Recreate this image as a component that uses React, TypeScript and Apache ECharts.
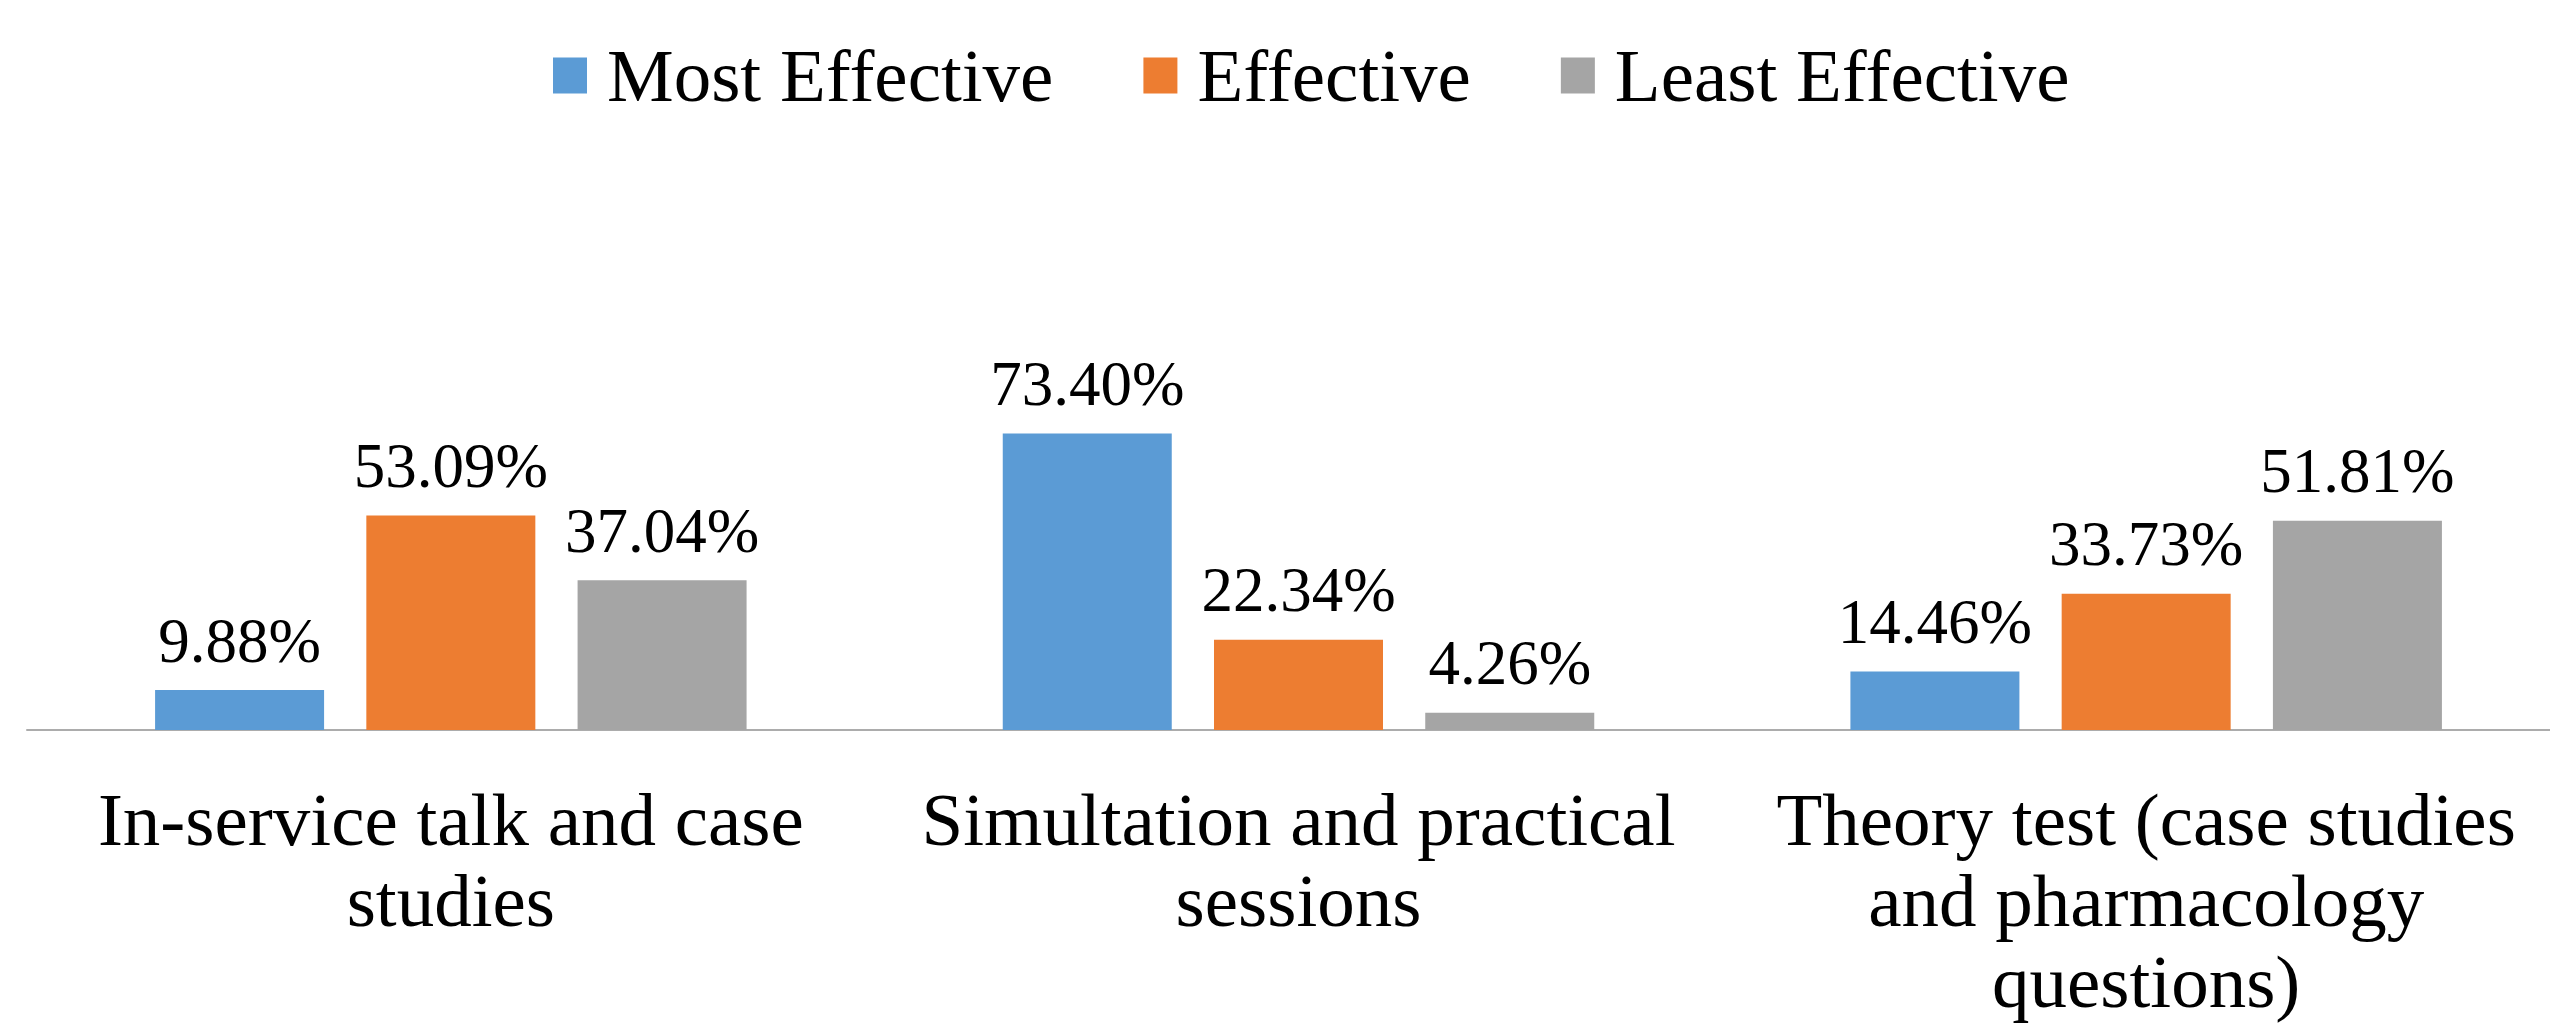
import React, { useEffect, useRef } from "react";
import * as echarts from "echarts";

const categories = [
  "In-service talk and case studies",
  "Simultation and practical sessions",
  "Theory test (case studies and pharmacology questions)",
];
const seriesNames = ["Most Effective", "Effective", "Least Effective"];
const mostEffective = [9.88, 73.4, 14.46];
const effective = [53.09, 22.34, 33.73];
const leastEffective = [37.04, 4.26, 51.81];
const colors = ["#5B9BD5", "#ED7D31", "#A5A5A5"];

const FONT = "'Liberation Serif', 'Times New Roman', serif";
const CAT_FONT_SIZE = 75;
const WRAP_WIDTH = 800;

function wrapText(text: string, font: string, maxWidth: number): string {
  const canvas = document.createElement("canvas");
  const ctx = canvas.getContext("2d");
  if (!ctx) return text;
  ctx.font = font;
  const words = text.split(" ");
  const lines: string[] = [];
  let cur = "";
  for (const w of words) {
    const trial = cur ? cur + " " + w : w;
    if (cur && ctx.measureText(trial).width > maxWidth) {
      lines.push(cur);
      cur = w;
    } else {
      cur = trial;
    }
  }
  if (cur) lines.push(cur);
  return lines.join("\n");
}

export default function App() {
  const ref = useRef<HTMLDivElement>(null);
  useEffect(() => {
    if (!ref.current) return;
    const chart = echarts.init(ref.current, undefined, { renderer: "svg" });
    const values = [mostEffective, effective, leastEffective];
    const catFont = `${CAT_FONT_SIZE}px ${FONT}`;
    chart.setOption({
      animation: false,
      backgroundColor: "#ffffff",
      legend: {
        left: 553,
        top: 38,
        padding: 0,
        itemWidth: 34,
        itemHeight: 36,
        itemGap: 90,
        icon: "rect",
        textStyle: {
          fontFamily: FONT,
          fontSize: 75,
          color: "#000000",
          padding: [0, 0, 0, 15],
        },
        data: seriesNames,
      },
      grid: { left: 27, top: 326, width: 2543, height: 404, containLabel: false },
      xAxis: {
        type: "category",
        data: categories,
        axisLine: { show: true, lineStyle: { color: "#ACACAC", width: 2 } },
        axisTick: { show: false },
        axisLabel: {
          interval: 0,
          margin: 49,
          fontFamily: FONT,
          fontSize: CAT_FONT_SIZE,
          lineHeight: 81,
          color: "#000000",
          formatter: (v: string) => wrapText(v, catFont, WRAP_WIDTH),
        },
      },
      yAxis: {
        type: "value",
        min: 0,
        max: 100,
        show: false,
        splitLine: { show: false },
      },
      series: seriesNames.map((name, i) => ({
        name,
        type: "bar",
        data: values[i],
        barWidth: 169,
        barGap: "25%",
        itemStyle: { color: colors[i] },
        label: {
          show: true,
          position: "top",
          distance: 18,
          fontFamily: FONT,
          fontSize: 63,
          color: "#000000",
          formatter: (p: any) => Number(p.value).toFixed(2) + "%",
        },
      })),
    });
    return () => chart.dispose();
  }, []);
  return (
    <div
      style={{
        position: "fixed",
        left: 0,
        top: 0,
        width: 2550,
        height: 1028,
        overflow: "hidden",
        background: "#fff",
      }}
    >
      <div ref={ref} style={{ width: 2600, height: 1028 }} />
    </div>
  );
}
